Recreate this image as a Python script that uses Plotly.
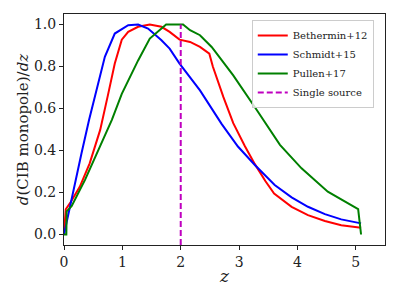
import plotly.graph_objects as go

# Bethermin+12
bet_z = [0, 0.03, 0.10, 0.27, 0.44, 0.62, 0.75, 0.87, 0.99, 1.10, 1.27, 1.47, 1.67, 1.81,
         1.98, 2.16, 2.33, 2.49, 2.55, 2.73, 2.90, 3.10, 3.27, 3.45, 3.60, 3.90, 4.18, 4.47,
         4.75, 5.09]
bet_y = [0, 0.12, 0.148, 0.227, 0.339, 0.498, 0.66, 0.814, 0.928, 0.965, 0.989, 1.0, 0.989,
         0.965, 0.928, 0.917, 0.893, 0.861, 0.80, 0.655, 0.53, 0.42, 0.335, 0.255, 0.195,
         0.132, 0.092, 0.064, 0.044, 0.032]

# Schmidt+15
sch_z = [0, 0.10, 0.19, 0.30, 0.43, 0.53, 0.70, 0.87, 1.10, 1.27, 1.44, 1.67, 1.81, 1.98,
         2.33, 2.70, 2.98, 3.27, 3.61, 3.90, 4.18, 4.47, 4.75, 5.09]
sch_y = [0, 0.132, 0.244, 0.387, 0.546, 0.655, 0.846, 0.957, 0.997, 1.0, 0.981, 0.925,
         0.885, 0.814, 0.686, 0.527, 0.419, 0.331, 0.236, 0.177, 0.132, 0.097, 0.072, 0.053]

# Pullen+17
pul_z = [0, 0.04, 0.045, 0.13, 0.36, 0.56, 0.82, 0.99, 1.27, 1.47, 1.61, 1.75, 2.04, 2.16,
         2.33, 2.53, 2.90, 3.18, 3.30, 3.70, 4.07, 4.52, 5.04, 5.09]
pul_y = [0, 0, 0.11, 0.135, 0.26, 0.387, 0.546, 0.670, 0.829, 0.933, 0.965, 1.0, 1.0, 0.973,
         0.949, 0.893, 0.758, 0.646, 0.594, 0.427, 0.315, 0.204, 0.121, 0.0]

# Single source
single_z = [2.0, 2.0]
single_y = [-0.05, 1.0]

x_ticks = [0, 1, 2, 3, 4, 5]
y_ticks = [0.0, 0.2, 0.4, 0.6, 0.8, 1.0]

FONT = "DejaVu Serif"

fig = go.Figure()
fig.add_trace(go.Scatter(x=bet_z, y=bet_y, mode="lines", name="Bethermin+12",
                         line=dict(color="#ff0000", width=2)))
fig.add_trace(go.Scatter(x=sch_z, y=sch_y, mode="lines", name="Schmidt+15",
                         line=dict(color="#0000ff", width=2)))
fig.add_trace(go.Scatter(x=pul_z, y=pul_y, mode="lines", name="Pullen+17",
                         line=dict(color="#008000", width=2)))
fig.add_trace(go.Scatter(x=single_z, y=single_y, mode="lines", name="Single source",
                         line=dict(color="#bf00bf", width=2, dash="6px,3px")))

axis_common = dict(showgrid=False, zeroline=False, showline=True, mirror=True,
                   linecolor="#222222", linewidth=1, ticks="outside", ticklen=4,
                   tickcolor="#222222", automargin=False,
                   tickfont=dict(family=FONT, size=14, color="#222222"))

# page body has an 8px default margin, so the figure is shifted by 8px
fig.update_layout(
    width=399, height=278,
    margin=dict(l=56, r=22, t=6, b=41),
    paper_bgcolor="white", plot_bgcolor="white",
    font=dict(family=FONT, color="#222222"),
    xaxis=dict(range=[0, 5.5], tickvals=x_ticks, ticktext=[str(v) for v in x_ticks],
               title=dict(text="<i>z</i>", font=dict(family=FONT, size=17), standoff=4),
               **axis_common),
    yaxis=dict(range=[-0.05, 1.05], tickvals=y_ticks, tickformat=".1f",
               title=dict(text="<i>d</i>(CIB monopole)/<i>dz</i>",
                          font=dict(family=FONT, size=15), standoff=1),
               **axis_common),
    legend=dict(x=0.965, y=0.974, xanchor="right", yanchor="top",
                bgcolor="rgba(255,255,255,0.8)", bordercolor="#cccccc", borderwidth=1,
                font=dict(family=FONT, size=10, color="#222222"),
                tracegroupgap=0, itemwidth=30),
    showlegend=True,
)

fig.write_html("out.html")
